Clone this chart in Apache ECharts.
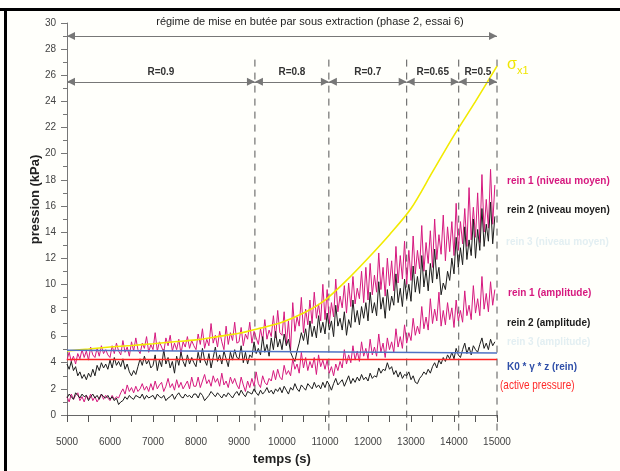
<!DOCTYPE html>
<html>
<head>
<meta charset="utf-8">
<script src="https://cdn.jsdelivr.net/npm/echarts@6/dist/echarts.min.js"></script>
<style>
  html, body { margin: 0; padding: 0; background: #fffffb; }
  #chart { width: 620px; height: 471px; }
</style>
</head>
<body>
<div id="chart"></div>
<script>
// sampling grid of the noisy records: one value every 50 s from 5000 s
const t0 = 5000;
const dt = 50;

const rein1Moyen = [
  4.2, 4.8, 4.1, 4.5, 3.9, 4.7, 4.3, 5.0, 4.4, 4.9, 4.2, 5.2, 4.6, 4.4, 5.1, 4.5, 5.3, 4.7, 5.0, 4.6,
  4.4, 5.3, 4.7, 5.5, 4.9, 4.6, 5.7, 4.8, 5.2, 4.5, 5.6, 4.9, 5.9, 5.0, 4.7, 5.5, 5.1, 6.0, 4.8, 5.4,
  5.0, 6.3, 4.9, 5.6, 5.2, 4.8, 5.9, 5.3, 6.1, 4.9, 5.5, 5.0, 5.8, 4.7, 5.6, 5.2, 6.0, 5.1, 5.7, 5.3,
  5.0, 6.2, 5.4, 6.6, 5.1, 5.8, 5.3, 7.0, 5.5, 6.1, 5.2, 6.4, 5.6, 5.0, 6.8, 5.4, 6.3, 5.7, 7.1, 5.5,
  5.6, 6.7, 5.3, 6.2, 5.8, 7.1, 5.5, 6.4, 5.9, 5.4, 6.6, 5.7, 7.3, 5.8, 6.5, 6.0, 7.6, 5.9, 8.0, 6.3,
  6.1, 7.9, 5.4, 7.2, 5.0, 8.6, 6.4, 7.5, 6.8, 9.0, 6.3, 8.1, 6.9, 8.8, 7.0, 9.4, 7.4, 8.5, 7.2, 10.0,
  7.3, 9.6, 7.0, 8.6, 7.5, 10.4, 7.9, 9.1, 8.2, 9.9, 7.8, 10.1, 8.3, 10.6, 8.5, 9.7, 8.9, 11.0, 8.6, 11.3,
  8.8, 11.6, 9.2, 10.7, 9.4, 12.4, 9.6, 11.3, 9.1, 12.0, 9.9, 11.8, 9.5, 12.9, 10.1, 12.2, 10.4, 13.3, 10.0, 12.6,
  10.3, 13.7, 10.8, 12.6, 11.2, 14.5, 11.0, 13.2, 11.6, 14.1, 11.3, 15.0, 11.9, 13.8, 12.3, 15.3, 11.8, 14.4, 12.5, 14.8,
  12.2, 16.2, 12.6, 14.8, 13.1, 15.8, 12.9, 17.4, 13.4, 15.9, 13.6, 17.0, 13.2, 18.4, 14.0, 16.5, 14.3, 18.8, 14.6, 17.6
];
const rein2Moyen = [
  3.9, 3.5, 4.1, 3.4, 3.7, 3.0, 3.3, 2.8, 3.1, 2.7, 3.2, 2.9, 3.5, 3.0, 3.8, 3.4, 4.0, 3.6, 3.9, 3.5,
  4.2, 3.6, 4.4, 3.8, 4.1, 3.7, 4.3, 3.5, 3.9, 3.3, 3.0, 3.4, 3.1, 3.7, 4.3, 3.8, 4.5, 3.9, 4.2, 3.6,
  3.8, 4.6, 3.4, 4.2, 3.7, 5.0, 3.9, 4.4, 3.6, 4.1, 3.2, 4.5, 3.8, 4.8, 4.1, 3.7, 4.6, 3.9, 4.4, 4.0,
  3.7, 4.8, 4.0, 5.1, 4.2, 3.8, 4.7, 3.6, 4.4, 5.2, 4.1, 4.6, 3.9, 4.9, 4.3, 3.7, 4.8, 4.2, 5.0, 4.4,
  4.3, 5.3, 4.0, 4.8, 3.9, 4.6, 4.4, 5.6, 4.7, 5.1, 4.6, 6.0, 4.8, 5.4, 4.5, 5.9, 5.0, 6.4, 5.2, 5.8,
  5.0, 6.2, 5.3, 5.8, 4.8, 4.4, 4.1, 4.9, 5.5, 6.3, 5.7, 6.6, 5.4, 7.2, 6.0, 6.8, 5.9, 7.6, 6.3, 7.1,
  6.2, 7.8, 6.5, 7.2, 6.0, 8.4, 6.8, 7.4, 6.5, 7.9, 6.1, 7.3, 6.7, 8.8, 7.1, 8.0, 6.9, 8.3, 7.4, 8.6,
  7.2, 9.4, 7.8, 8.6, 7.6, 10.2, 8.1, 9.0, 7.4, 9.6, 8.0, 9.1, 8.4, 10.8, 8.6, 9.7, 8.3, 10.4, 8.9, 10.0,
  8.7, 11.4, 9.4, 10.6, 9.3, 12.2, 9.8, 11.1, 9.5, 11.6, 10.1, 12.7, 10.4, 11.3, 9.2, 10.1, 9.6, 11.0, 10.3, 12.0,
  10.8, 13.6, 11.3, 12.8, 11.5, 14.4, 11.9, 13.4, 12.2, 15.0, 12.0, 14.2, 12.6, 15.8, 12.9, 14.6, 13.3, 16.3, 13.1, 15.2
];
const rein1Amplitude = [
  1.4, 1.0, 1.6, 1.2, 1.5, 1.7, 1.1, 1.4, 1.0, 1.5, 1.2, 1.6, 1.1, 1.4, 1.0, 1.3, 1.6, 1.2, 1.5, 1.3,
  1.1, 1.5, 1.2, 1.4, 1.3, 1.7, 2.0, 1.6, 2.3, 1.8, 2.1, 1.7, 2.2, 1.8, 2.0, 2.4, 1.9, 2.2, 1.8, 2.4,
  1.9, 2.6, 2.0, 2.3, 2.5, 1.8, 2.2, 2.8, 2.1, 2.4, 1.9, 2.7, 2.1, 2.5, 2.0, 2.3, 2.6, 2.0, 2.9, 2.2,
  2.2, 2.9, 2.1, 2.6, 3.1, 2.4, 2.7, 2.2, 3.0, 2.5, 2.8, 2.2, 3.2, 2.3, 2.6, 2.1, 2.9, 2.4, 2.8, 2.3,
  2.0, 2.9, 2.3, 1.8, 2.6, 2.1, 2.8, 2.2, 3.3, 2.4, 2.1, 3.0, 2.5, 2.3, 2.8, 2.6, 3.4, 2.7, 3.5, 2.9,
  2.7, 3.8, 3.1, 3.4, 3.0, 4.3, 3.5, 3.9, 3.2, 4.8, 3.6, 4.4, 3.4, 4.1, 3.6, 4.4, 3.1, 4.6, 3.7, 4.2,
  3.5, 4.2, 3.2, 3.7, 3.0, 3.9, 3.4, 4.1, 3.6, 5.0, 3.9, 4.6, 4.0, 5.3, 4.2, 4.9, 4.1, 5.6, 4.5, 5.1,
  4.3, 5.8, 4.6, 5.2, 4.5, 6.2, 4.8, 5.5, 4.4, 5.9, 5.0, 5.6, 4.8, 6.6, 5.2, 6.0, 5.1, 6.9, 5.5, 6.3,
  5.7, 7.4, 6.1, 6.8, 6.2, 8.3, 6.6, 7.5, 6.5, 8.9, 7.0, 8.1, 7.2, 9.4, 6.8, 8.0, 6.9, 8.6, 7.3, 8.2,
  6.7, 8.8, 7.2, 8.0, 7.1, 9.5, 7.6, 8.4, 7.3, 9.9, 7.8, 8.9, 7.6, 10.6, 8.1, 9.3, 7.9, 10.2, 8.4, 9.6
];
const rein2Amplitude = [
  1.3, 1.6, 1.4, 1.2, 1.7, 1.5, 1.3, 1.6, 1.4, 1.5, 1.1, 1.4, 1.6, 1.3, 1.5, 1.2, 1.6, 1.4, 1.3, 1.5,
  1.2, 1.4, 1.1, 1.3, 0.8, 1.0, 1.1, 1.4, 1.2, 1.5, 1.3, 1.2, 1.5, 1.4, 1.3, 1.6, 1.2, 1.5, 1.3, 1.4,
  1.5, 1.2, 1.6, 1.4, 1.3, 1.5, 1.1, 1.3, 1.4, 1.6, 1.2, 1.5, 1.7, 1.4, 1.3, 1.6, 1.4, 1.5, 1.3, 1.6,
  1.6, 1.3, 1.7, 1.5, 1.1, 1.3, 1.5, 1.8, 1.6, 1.4, 1.7, 1.5, 1.3, 1.6, 1.4, 1.7, 1.5, 1.3, 1.6, 1.8,
  1.5, 1.9, 1.6, 1.4, 1.8, 1.7, 1.6, 2.0, 1.7, 1.5, 1.9, 1.6, 1.8, 2.1, 1.7, 1.9, 1.6, 2.0, 1.8, 2.1,
  1.7, 2.2, 1.9, 1.6, 2.1, 1.9, 2.4, 2.0, 1.8, 2.3, 2.1, 1.9, 2.4, 2.2, 2.0, 2.5, 2.1, 2.3, 2.0, 2.5,
  2.1, 2.6, 2.3, 1.9, 2.4, 2.8, 2.3, 2.5, 2.7, 2.2, 2.6, 3.0, 2.4, 2.8, 2.5, 2.9, 2.6, 3.1, 2.7, 2.9,
  2.6, 3.2, 2.8, 3.0, 2.9, 3.6, 3.2, 3.5, 3.4, 4.0, 3.5, 3.7, 3.1, 3.4, 2.9, 3.3, 2.8, 3.1, 3.0, 3.3,
  2.7, 3.0, 2.5, 2.4, 2.8, 3.0, 3.3, 3.1, 3.5, 3.2, 3.7, 4.0, 3.6, 4.2, 3.9, 4.4, 4.1, 4.6, 4.3, 4.8,
  4.3, 5.1, 4.6, 4.4, 5.0, 5.5, 4.7, 5.2, 4.6, 5.3, 5.0, 4.8, 5.4, 5.9, 5.1, 5.5, 5.0, 5.8, 5.3, 5.6
];

// sigma x1 (smooth curve), read every 500 s
const sigmaT = [5000, 5500, 6000, 6500, 7000, 7500, 8000, 8500, 9000, 9500, 10000,
  10500, 11000, 11500, 12000, 12500, 13000, 13500, 14000, 14500, 15000];
const sigmaX1 = [4.9, 5.05, 5.2, 5.32, 5.45, 5.6, 5.75, 6.0, 6.25, 6.65, 7.1,
  7.8, 8.8, 10.3, 12.0, 13.8, 15.8, 18.6, 21.4, 24.0, 26.7];

// reference pressures
const refT = [5000, 15000];
const k0GammaZ = [4.95, 4.75];
const activePressure = [4.25, 4.25];

// extraction phases
const phaseBounds = [5000, 9370, 11090, 12900, 14110, 15000];
const phaseLabels = ['R=0.9', 'R=0.8', 'R=0.7', 'R=0.65', 'R=0.5'];
const regimeLevel = 29;
const phaseLevel = 25.5;
const dashTop = 27.2;

const pairs = vals => vals.map((v, i) => [t0 + i * dt, v]);
const zip = (xs, ys) => xs.map((x, i) => [x, ys[i]]);

const FONT = "'Liberation Sans', Arial, sans-serif";
const MAGENTA = '#d6197f';
const BLACK = '#1c1c1c';

const arrowLines = [
  [{ coord: [phaseBounds[0], regimeLevel] }, { coord: [phaseBounds[phaseBounds.length - 1], regimeLevel] }]
];
phaseLabels.forEach((lab, i) => {
  arrowLines.push([
    { coord: [phaseBounds[i], phaseLevel], name: lab },
    { coord: [phaseBounds[i + 1], phaseLevel] }
  ]);
});

const chart = echarts.init(document.getElementById('chart'));
chart.setOption({
  animation: false,
  backgroundColor: '#fffffb',
  textStyle: { fontFamily: FONT },
  title: {
    text: 'régime de mise en butée par sous extraction (phase 2, essai 6)',
    left: 'center',
    top: 11,
    textStyle: { fontSize: 11, fontWeight: 'normal', color: '#222', fontFamily: FONT }
  },
  grid: { left: 67, right: 123, top: 23, bottom: 55 },
  xAxis: {
    type: 'value',
    min: 5000,
    max: 15000,
    interval: 1000,
    name: 'temps (s)',
    nameLocation: 'middle',
    nameGap: 38,
    nameMoveOverlap: false,
    nameTextStyle: { fontSize: 13, fontWeight: 'bold', color: '#222', fontFamily: FONT },
    axisLine: { lineStyle: { color: '#666', width: 1 } },
    axisTick: { inside: false, length: 7, lineStyle: { color: '#555' } },
    minorTick: { show: true, splitNumber: 2, length: 7, lineStyle: { color: '#555' } },
    axisLabel: { fontSize: 10, color: '#444', margin: 22, formatter: v => String(v) },
    splitLine: { show: false }
  },
  yAxis: {
    type: 'value',
    min: 0,
    max: 30,
    interval: 2,
    name: 'pression (kPa)',
    nameLocation: 'middle',
    nameGap: 25,
    nameMoveOverlap: false,
    nameTextStyle: { fontSize: 13, fontWeight: 'bold', color: '#222', fontFamily: FONT, padding: [0, 0, 0, 39] },
    axisLine: { show: true, lineStyle: { color: '#777', width: 1 } },
    axisTick: { show: true, length: 6, lineStyle: { color: '#777' } },
    minorTick: { show: true, splitNumber: 2, length: 4, lineStyle: { color: '#777' } },
    axisLabel: { fontSize: 10, color: '#444', margin: 11 },
    splitLine: { show: false }
  },
  series: [
    { name: 'rein 1 (niveau moyen)', type: 'line', data: pairs(rein1Moyen), showSymbol: false,
      lineStyle: { color: MAGENTA, width: 1 } },
    { name: 'rein 1 (amplitude)', type: 'line', data: pairs(rein1Amplitude), showSymbol: false,
      lineStyle: { color: MAGENTA, width: 1 } },
    { name: 'rein 2 (niveau moyen)', type: 'line', data: pairs(rein2Moyen), showSymbol: false,
      lineStyle: { color: BLACK, width: 1 } },
    { name: 'rein 2 (amplitude)', type: 'line', data: pairs(rein2Amplitude), showSymbol: false,
      lineStyle: { color: BLACK, width: 1 } },
    { name: 'σx1', type: 'line', data: zip(sigmaT, sigmaX1), smooth: 0.3, showSymbol: false,
      lineStyle: { color: '#f2ea00', width: 1.6 } },
    { name: 'K0 * γ * z (rein)', type: 'line', data: zip(refT, k0GammaZ), showSymbol: false,
      lineStyle: { color: '#4f72c4', width: 1.5 } },
    { name: 'active pressure', type: 'line', data: zip(refT, activePressure), showSymbol: false,
      lineStyle: { color: '#ff2424', width: 1.5 } },
    { name: 'phases', type: 'line', data: [], clip: false, silent: true,
      markLine: {
        silent: true,
        animation: false,
        symbol: ['triangle', 'triangle'],
        symbolSize: [8, 8],
        symbolOffset: [[0, 4], [0, 4]],
        lineStyle: { color: '#777', width: 1, type: 'solid' },
        itemStyle: { color: '#333' },
        label: {
          show: true,
          position: 'insideMiddleTop',
          formatter: p => p.name || '',
          fontSize: 10,
          fontWeight: 'bold',
          color: '#333',
          distance: 5,
          fontFamily: FONT
        },
        emphasis: { disabled: true },
        data: arrowLines
      } },
    { name: 'divisions', type: 'custom', clip: false, silent: true,
      data: phaseBounds.slice(1).map(t => [t, dashTop]),
      encode: { x: 0, y: 1 },
      renderItem: (params, api) => {
        const top = api.coord([api.value(0), api.value(1)]);
        const base = api.coord([api.value(0), 0]);
        return {
          type: 'line',
          shape: { x1: top[0], y1: top[1], x2: base[0], y2: base[1] + 17 },
          style: { stroke: '#555', lineWidth: 1, lineDash: [7, 6] }
        };
      } }
  ],
  graphic: [
    { type: 'rect', shape: { x: 0, y: 8, width: 620, height: 3 }, style: { fill: '#000' } },
    { type: 'rect', shape: { x: 4, y: 8, width: 3, height: 463 }, style: { fill: '#000' } },
    { type: 'text', x: 507, y: 65, style: { text: 'σ', fill: '#f0e600', font: '16px ' + FONT, verticalAlign: 'middle' } },
    { type: 'text', x: 517, y: 71, style: { text: 'x1', fill: '#f0e600', font: '11px ' + FONT, verticalAlign: 'middle' } },
    { type: 'text', x: 507, y: 181, style: { text: 'rein 1 (niveau moyen)', fill: MAGENTA, font: 'bold 10px ' + FONT, verticalAlign: 'middle' } },
    { type: 'text', x: 507, y: 210, style: { text: 'rein 2 (niveau moyen)', fill: BLACK, font: 'bold 10px ' + FONT, verticalAlign: 'middle' } },
    { type: 'text', x: 506, y: 242, style: { text: 'rein 3 (niveau moyen)', fill: '#e3eff2', font: 'bold 10px ' + FONT, verticalAlign: 'middle' } },
    { type: 'text', x: 508, y: 293, style: { text: 'rein 1 (amplitude)', fill: MAGENTA, font: 'bold 10px ' + FONT, verticalAlign: 'middle' } },
    { type: 'text', x: 507, y: 323, style: { text: 'rein 2 (amplitude)', fill: BLACK, font: 'bold 10px ' + FONT, verticalAlign: 'middle' } },
    { type: 'text', x: 507, y: 342, style: { text: 'rein 3 (amplitude)', fill: '#e3eff2', font: 'bold 10px ' + FONT, verticalAlign: 'middle' } },
    { type: 'text', x: 507, y: 367, style: { text: 'K0 * γ * z (rein)', fill: '#2f4fa8', font: 'bold 10px ' + FONT, verticalAlign: 'middle' } },
    { type: 'text', x: 500, y: 385, scaleX: 0.77, style: { text: '(active pressure)', fill: '#ff2a2a', font: '13px ' + FONT, verticalAlign: 'middle' } }
  ]
});
</script>
</body>
</html>
